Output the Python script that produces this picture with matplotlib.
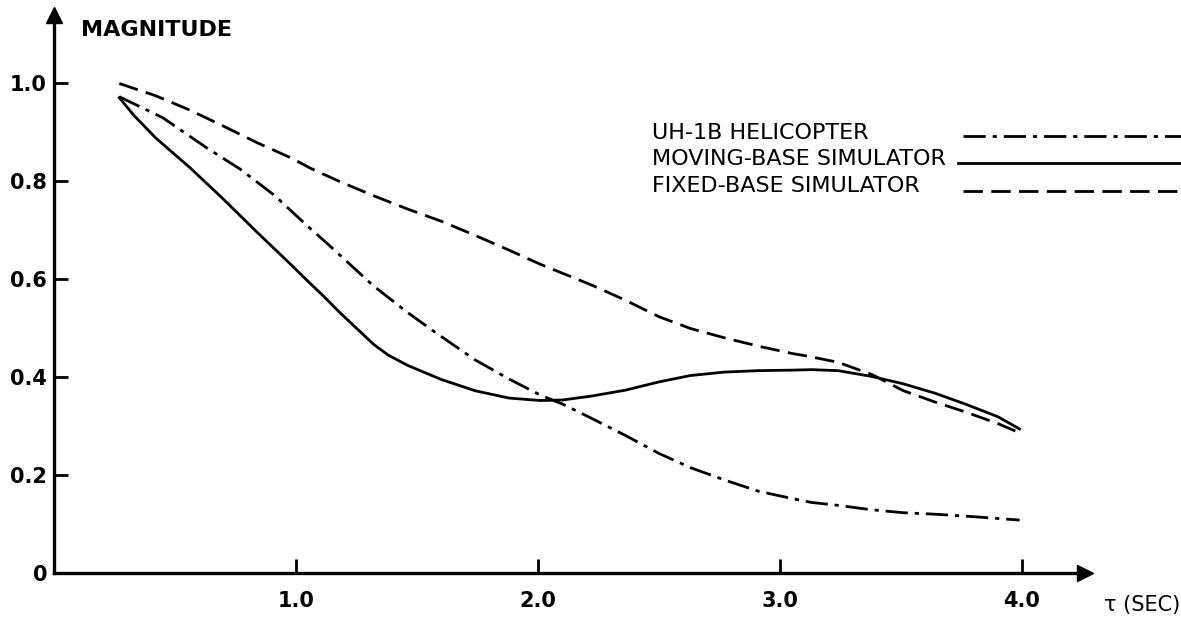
import matplotlib.pyplot as plt
from matplotlib.lines import Line2D

# values (tau in sec, magnitude)
heli_t = [0.27, 0.45, 0.63, 0.77, 0.91, 1.05, 1.13, 1.32, 1.46, 1.57, 1.74, 1.88,
          2.01, 2.10, 2.22, 2.36, 2.50, 2.63, 2.77, 2.91, 3.05, 3.13, 3.24, 3.38, 3.51,
          3.64, 3.77, 3.99]
heli_mag = [0.972, 0.929, 0.868, 0.824, 0.771, 0.707, 0.672, 0.586, 0.532, 0.493,
            0.435, 0.396, 0.363, 0.345, 0.316, 0.281, 0.244, 0.215, 0.19, 0.167,
            0.152, 0.144, 0.138, 0.129, 0.123, 0.12, 0.116, 0.108]

moving_t = [0.27, 0.33, 0.42, 0.56, 0.70, 0.84, 0.98, 1.05, 1.12, 1.18, 1.32, 1.38,
            1.46, 1.60, 1.74, 1.88, 2.01, 2.10, 2.22, 2.36, 2.50, 2.63, 2.77, 2.91,
            3.05, 3.13, 3.24, 3.38, 3.51, 3.64, 3.77, 3.90, 3.99]
moving_mag = [0.97, 0.934, 0.888, 0.828, 0.763, 0.695, 0.629, 0.595, 0.562, 0.532,
              0.467, 0.445, 0.424, 0.395, 0.372, 0.357, 0.352, 0.353, 0.361, 0.373,
              0.39, 0.403, 0.41, 0.413, 0.414, 0.415, 0.413, 0.401, 0.386, 0.367,
              0.344, 0.319, 0.294]

fixed_t = [0.27, 0.42, 0.56, 0.70, 0.84, 0.98, 1.06, 1.18, 1.32, 1.46, 1.60, 1.74, 1.88,
           2.01, 2.09, 2.22, 2.36, 2.50, 2.63, 2.77, 2.91, 3.05, 3.12, 3.24, 3.38, 3.51,
           3.64, 3.77, 3.90, 3.99]
fixed_mag = [0.999, 0.974, 0.945, 0.912, 0.878, 0.847, 0.826, 0.799, 0.77, 0.743, 0.718,
             0.689, 0.659, 0.63, 0.614, 0.588, 0.557, 0.523, 0.499, 0.48, 0.463, 0.448,
             0.442, 0.43, 0.405, 0.372, 0.349, 0.328, 0.305, 0.286]

x_ticks = [1.0, 2.0, 3.0, 4.0]
x_tick_labels = ["1.0", "2.0", "3.0", "4.0"]
y_ticks = [0, 0.2, 0.4, 0.6, 0.8, 1.0]
y_tick_labels = ["0", "0.2", "0.4", "0.6", "0.8", "1.0"]

legend_labels = ["UH-1B HELICOPTER", "MOVING-BASE SIMULATOR", "FIXED-BASE SIMULATOR"]

plt.rcParams["font.family"] = "DejaVu Sans"

W, H = 1181, 633
x0_px, x_scale = 54, 242      # pixel of tau=0, pixels per second
y0_px, y_scale = 573, 490     # pixel of magnitude 0, pixels per unit
x_end, y_end = 1085, 15       # arrow tips

fig = plt.figure(figsize=(W / 100, H / 100), dpi=100)
ax = fig.add_axes([x0_px / W, (H - y0_px) / H, (x_end - x0_px) / W, (y0_px - y_end) / H])

lw = 2.0
dashdot = (0, (8, 2.5, 1.5, 2.5))
dashed = (0, (7, 3))

ax.plot(heli_t, heli_mag, color="black", lw=lw, linestyle=dashdot)
ax.plot(moving_t, moving_mag, color="black", lw=lw, linestyle="-")
ax.plot(fixed_t, fixed_mag, color="black", lw=lw, linestyle=dashed)

ax.set_xlim(0, (x_end - x0_px) / x_scale)
ax.set_ylim(0, (y0_px - y_end) / y_scale)

for s in ["top", "right"]:
    ax.spines[s].set_visible(False)
for s in ["left", "bottom"]:
    ax.spines[s].set_linewidth(2.4)

# arrow heads on the axes
ax.plot(1, 0, ">k", markersize=12, transform=ax.transAxes, clip_on=False)
ax.plot(0, 1, "^k", markersize=12, transform=ax.transAxes, clip_on=False)

ax.set_xticks(x_ticks)
ax.set_xticklabels(x_tick_labels)
ax.set_yticks(y_ticks)
ax.set_yticklabels(y_tick_labels)
ax.tick_params(direction="in", length=10, width=2, labelsize=15)
ax.tick_params(axis="x", pad=13)
ax.tick_params(axis="y", pad=5)
for lab in ax.get_xticklabels() + ax.get_yticklabels():
    lab.set_fontweight("bold")

ax.text(0.11, 1.108, "MAGNITUDE", fontsize=16, fontweight="bold", va="center", ha="left")
ax.text(4.34, -0.065, "τ (SEC)", fontsize=15, va="center", ha="left", clip_on=False)

# legend drawn by hand: labels on the left, line samples on the right
styles = [dashdot, "-", dashed]
text_y = [133, 159, 186]
line_y = [136, 163, 191]
line_x0 = [963, 958, 963]
for lab, st, ty, ly, lx in zip(legend_labels, styles, text_y, line_y, line_x0):
    fig.text(652 / W, 1 - ty / H, lab, fontsize=16, va="center", ha="left")
    fig.add_artist(Line2D([lx / W, 1.0], [1 - ly / H, 1 - ly / H], transform=fig.transFigure,
                          color="black", lw=lw, linestyle=st))

fig.savefig("out.png", dpi=100)
